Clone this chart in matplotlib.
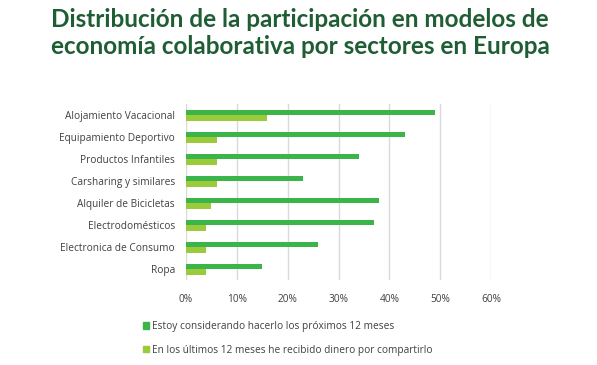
import matplotlib
matplotlib.use("Agg")
import matplotlib.pyplot as plt
from matplotlib.patches import Patch
import numpy as np

categories = ["Alojamiento Vacacional", "Equipamiento Deportivo", "Productos Infantiles",
              "Carsharing y similares", "Alquiler de Bicicletas", "Electrodomésticos",
              "Electronica de Consumo", "Ropa"]
considering = [49, 43, 34, 23, 38, 37, 26, 15]
received = [16, 6, 6, 6, 5, 4, 4, 4]
series_names = ["Estoy considerando hacerlo los próximos 12 meses",
                "En los últimos 12 meses he recibido dinero por compartirlo"]
xticks = [0, 10, 20, 30, 40, 50, 60]
title = "Distribución de la participación en modelos de\neconomía colaborativa por sectores en Europa"

c_dark = "#3bb44a"
c_light = "#9bcb3b"
txt = "#404040"

W, H = 597, 365
fig = plt.figure(figsize=(W / 100, H / 100), dpi=100)
ax = fig.add_axes([186 / W, 1 - 280 / H, (491 - 186) / W, (280 - 104) / H])

y = np.arange(len(categories))
h = 0.25
ax.barh(y - h / 2, considering, height=h, color=c_dark, zorder=3)
ax.barh(y + h / 2, received, height=h, color=c_light, zorder=3)
ax.set_ylim(len(categories) - 0.5, -0.5)
ax.set_xlim(0, 60)
ax.set_xticks(xticks)
ax.set_xticklabels([f"{v}%" for v in xticks])
ax.set_yticks(y)
ax.set_yticklabels(categories)
ax.grid(axis="x", color="#d9d9d9", linewidth=1, zorder=0)
for s in ax.spines.values():
    s.set_visible(False)
ax.tick_params(length=0, labelsize=7.3, colors=txt, pad=8)
ax.tick_params(axis="x", pad=10)
for lab in ax.get_xticklabels() + ax.get_yticklabels():
    lab.set_family("Open Sans")

handles = [Patch(color=c_dark, label=series_names[0]),
           Patch(color=c_light, label=series_names[1])]
leg = fig.legend(handles=handles, loc="upper left", bbox_to_anchor=(134 / W, 1 - 312 / H),
                 frameon=False, handlelength=0.6, handleheight=0.6, handletextpad=0.25,
                 labelspacing=1.25, prop={"family": "Open Sans", "size": 7.3})
for t in leg.get_texts():
    t.set_color(txt)

fig.text(300 / W, 1 - 33 / H, title, ha="center", va="center", fontsize=17.5,
         fontweight="bold", family="Lato", color="#1f5e34", linespacing=1.2)

fig.savefig("out.png", dpi=100, facecolor="white")
